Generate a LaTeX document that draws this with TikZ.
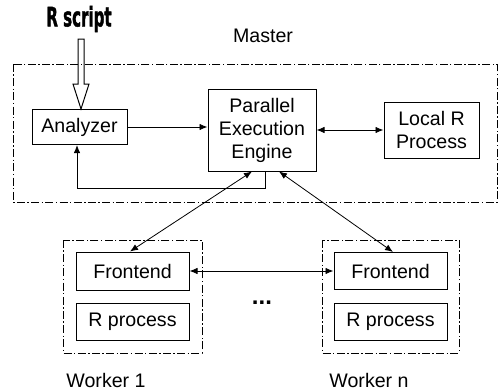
\documentclass[tikz,border=0pt]{standalone}
\usepackage{fontspec}
\setmainfont{Liberation Sans}
\newfontfamily\condfont[FakeBold=1.6]{DejaVu Sans Condensed Bold}
\usepackage{tikz}
\usetikzlibrary{arrows.meta}

\begin{document}
\begin{tikzpicture}[x=0.5pt, y=-0.5pt, node distance=25.25pt,
  font=\fontsize{9.8}{11.5}\selectfont,
  >={Latex[length=4pt,width=3.2pt]},
  box/.style = {draw, line width=0.5pt, inner sep=1pt, align=center},
  frame/.style = {draw, line width=0.4pt, dash pattern=on 4pt off 1.2pt on 0.7pt off 1.2pt}]
\useasboundingbox (0,0) rectangle (499,391);

% master side
\draw[frame] (13,64) rectangle (497,202);
\node (0) at (79,19) {\condfont\fontsize{13.5}{14}\selectfont\scalebox{0.62}[1]{R script}};
\node (m) at (263,36) {Master};
\node[box, minimum width=47.5pt, minimum height=17.5pt] (1) at (79.5,127) {Analyzer};
\node[box, minimum width=54pt, minimum height=41pt] (2) at (262,130) {Parallel\\Execution\\Engine};
\node[box, minimum width=47.5pt, minimum height=28pt] (3) at (431.5,130) {Local R\\Process};

% workers
\draw[frame] (63,240) rectangle (202,353);
\draw[frame] (322,240) rectangle (459,353);
\node[box, minimum width=56.5pt, minimum height=19pt] (4) at (132.5,271) {Frontend};
\node[box, minimum width=56.5pt, minimum height=18.5pt] (5) [below of=4] {R process};
\node[box, minimum width=56.5pt, minimum height=18.5pt] (6) at (390.5,271) {Frontend};
\node[box, minimum width=56.5pt, minimum height=18.5pt] (7) [below of=6] {R process};
\node (d) at (262,303) {\bfseries\fontsize{12}{12}\selectfont ...};
\node (w1) at (106,380) {Worker 1};
\node (wn) at (369,380) {Worker n};

% script input arrow
\coordinate (t) at ([xshift=0.75pt]1.north);
\draw[line width=0.5pt] (t) -- ++(-4pt,12.5pt) -- ++(2.5pt,0) -- ++(0,22.5pt)
  -- ++(3pt,0) -- ++(0,-22.5pt) -- ++(2.5pt,0) -- cycle;

\draw[->] (1.east) -- (1.east -| 2.west);
\draw[<->] (2.east) -- (3.west);
\draw[->] ([xshift=1.5pt]2.south) -- ++(0,-8.5pt) -| ([xshift=-1.25pt]1.south);
\draw[<->] ([xshift=-5pt]2.south) -- ([xshift=-1.25pt]4.north);
\draw[<->] ([xshift=8.5pt]2.south) -- ([xshift=1.25pt]6.north);
\draw[<->] (4.east) -- (6.west);
\end{tikzpicture}
\end{document}
